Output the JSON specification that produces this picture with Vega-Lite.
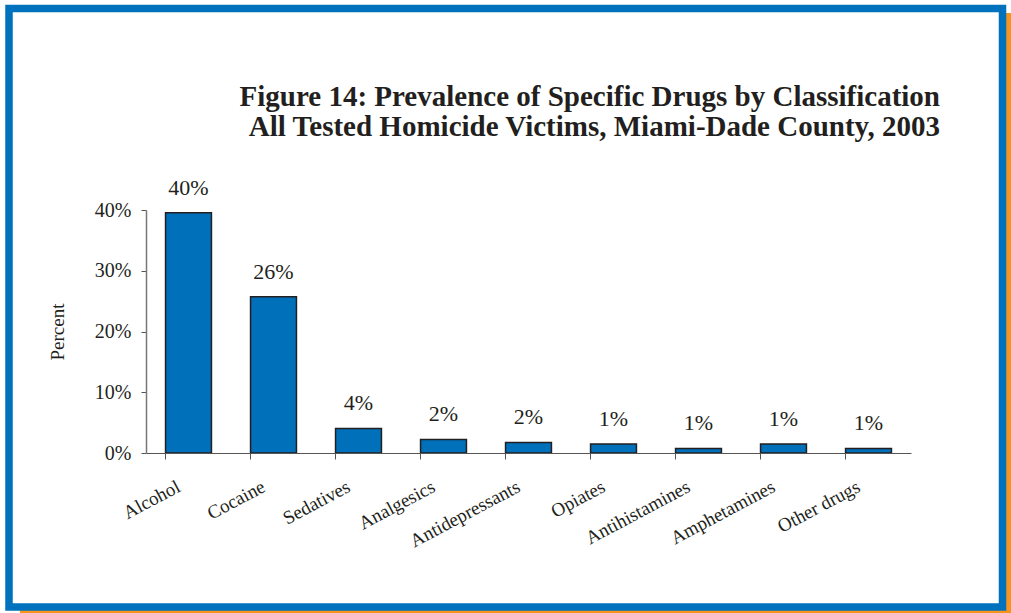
{
  "$schema": "https://vega.github.io/schema/vega-lite/v6.json",
  "width": 765,
  "height": 243,
  "autosize": "none",
  "padding": {"left": 146, "top": 210, "right": 100, "bottom": 160},
  "background": "white",
  "config": {
    "font": "Liberation Serif",
    "view": {"stroke": null}
  },
  "title": {
    "text": ["Figure 14: Prevalence of Specific Drugs by Classification", "All Tested Homicide Victims, Miami-Dade County, 2003"],
    "anchor": "end",
    "frame": "group",
    "dx": 29,
    "offset": -166,
    "baseline": "bottom",
    "font": "Liberation Serif",
    "fontSize": 29,
    "fontWeight": "bold",
    "lineHeight": 30,
    "color": "#231f20",
    "zindex": 2
  },
  "layer": [
    {
      "data": {"values": [{"a": 0, "b": 1}]},
      "mark": {"type": "rect", "fill": "#f7941d", "strokeWidth": 0},
      "encoding": {
        "x": {"field": "a", "type": "quantitative", "axis": null, "scale": {"domain": [0, 1], "range": [-126, 874], "nice": false, "zero": false}},
        "x2": {"field": "b"},
        "y": {"field": "a", "type": "quantitative", "axis": null, "scale": {"domain": [0, 1], "range": [-197, 410], "nice": false, "zero": false}},
        "y2": {"field": "b"}
      }
    },
    {
      "data": {"values": [{"a": 0, "b": 1}]},
      "mark": {"type": "rect", "fill": "white", "stroke": "#0071bc", "strokeWidth": 7.5},
      "encoding": {
        "x": {"field": "a", "type": "quantitative", "axis": null, "scale": {"domain": [0, 1], "range": [-137, 856.5], "nice": false, "zero": false}},
        "x2": {"field": "b"},
        "y": {"field": "a", "type": "quantitative", "axis": null, "scale": {"domain": [0, 1], "range": [-201.5, 397], "nice": false, "zero": false}},
        "y2": {"field": "b"}
      }
    },
    {
      "data": {
        "values": [
          {"drug": "Alcohol", "share": 0.3955},
          {"drug": "Cocaine", "share": 0.257},
          {"drug": "Sedatives", "share": 0.0405},
          {"drug": "Analgesics", "share": 0.0224},
          {"drug": "Antidepressants", "share": 0.0174},
          {"drug": "Opiates", "share": 0.0148},
          {"drug": "Antihistamines", "share": 0.0076},
          {"drug": "Amphetamines", "share": 0.0148},
          {"drug": "Other drugs", "share": 0.0076}
        ]
      },
      "encoding": {
        "x": {
          "field": "drug",
          "type": "nominal",
          "sort": null,
          "scale": {"paddingInner": 0.46, "paddingOuter": 0.23},
          "axis": {
            "title": null,
            "zindex": 2,
            "labelAngle": -28,
            "labelFontSize": 19,
            "labelColor": "#231f20",
            "labelPadding": 18,
            "labelOffset": -14,
            "bandPosition": 0,
            "tickSize": 6,
            "tickColor": "#555",
            "domainColor": "#555",
            "domainWidth": 1.2,
            "grid": false
          }
        },
        "y": {
          "field": "share",
          "type": "quantitative",
          "scale": {"domain": [0, 0.4], "nice": false},
          "axis": {
            "title": "Percent",
            "zindex": 2,
            "titleFontSize": 19,
            "titleFontWeight": "normal",
            "titleColor": "#231f20",
            "titlePadding": 27,
            "values": [0, 0.1, 0.2, 0.3, 0.4],
            "format": ".0%",
            "labelFontSize": 20,
            "labelColor": "#231f20",
            "labelPadding": 10,
            "tickSize": 5,
            "tickColor": "#555",
            "domainColor": "#777",
            "domainWidth": 1.5,
            "grid": false
          }
        }
      },
      "layer": [
        {
          "mark": {"type": "bar", "fill": "#0070ba", "stroke": "#231f20", "strokeWidth": 1.5}
        },
        {
          "mark": {"type": "text", "baseline": "alphabetic", "dy": -18, "fontSize": 22, "color": "#231f20"},
          "encoding": {"text": {"field": "share", "type": "quantitative", "format": ".0%"}}
        }
      ]
    }
  ],
  "resolve": {"scale": {"x": "independent", "y": "independent"}}
}
